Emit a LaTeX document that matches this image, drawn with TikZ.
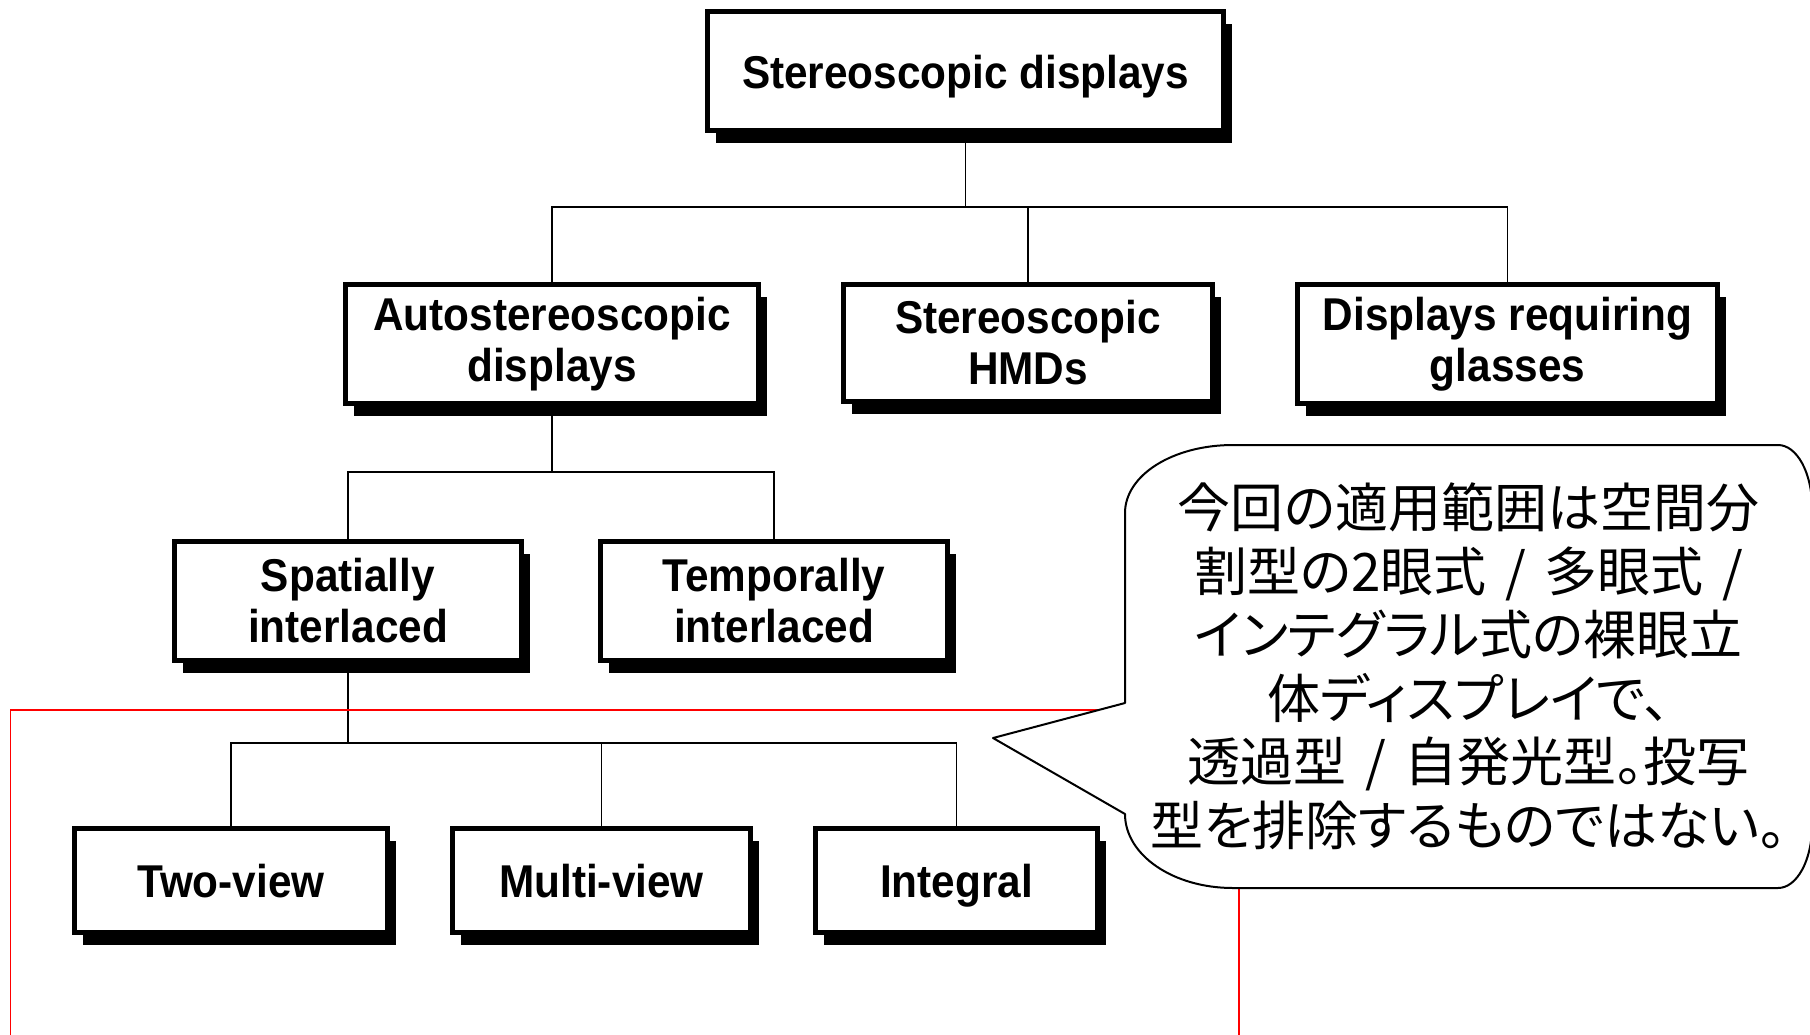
\documentclass[tikz,border=0pt]{standalone}
\usepackage{fontspec}
\setmainfont{Liberation Sans}[FakeStretch=0.92]
\newfontfamily\jpfont{Noto Sans CJK JP}[RawFeature=+palt]
\usetikzlibrary{shadows}
\newcommand\slsp{\hspace{0.35em}/\hspace{0.35em}}
\begin{document}
\begin{tikzpicture}[x=0.5pt, y=-0.5pt,
  box/.style 2 args={draw=black, line width=2.5pt, fill=white,
    minimum width=#1*0.5pt, minimum height=#2*0.5pt, inner sep=0pt,
    font=\bfseries\fontsize{23pt}{25.5pt}\selectfont,
    drop shadow={shadow xshift=4.25pt, shadow yshift=-6.25pt, fill=black, opacity=1}},
  oneline/.style={text height=22pt, text depth=4.9pt},
  twoline/.style={align=center},
  conn/.style={draw=black, line width=0.8pt},
  frameline/.style={draw=red, line width=0.8pt},
  bubble/.style={draw=black, line width=1pt, fill=white, line join=round},
  notetext/.style={align=center, font=\jpfont\fontsize{26.5pt}{31.75pt}\selectfont}]
\useasboundingbox (0,0) rectangle (1810,1034);
\clip (0,0) rectangle (1810,1034);

% tree of display types
\node[box={516}{119}, oneline] (top) at (965.5,71) {Stereoscopic displays};
\node[box={413}{119}, twoline] (auto)  at (552,344)    {Autostereoscopic\\displays};
\node[box={369}{117}, twoline] (hmd)   at (1028,343)   {Stereoscopic\\HMDs};
\node[box={420}{119}, twoline] (glass) at (1507.5,344) {Displays requiring\\glasses};
\node[box={347}{119}, twoline] (spat)  at (348,601)    {Spatially\\interlaced};
\node[box={347}{119}, twoline] (temp)  at (774,601)    {Temporally\\interlaced};
\node[box={313}{104}, oneline] (two)   at (231,880.5)   {Two-view};
\node[box={298}{104}, oneline] (multi) at (601.5,880.5) {Multi-view};
\node[box={282}{104}, oneline] (integ) at (956.5,880.5) {Integral};

% branch points
\coordinate (j1) at (965.5,207);
\coordinate (j2) at (552,472);
\coordinate (j3) at (348,743);

\draw[conn] (top.south) -- (j1);
\draw[conn] (auto.north) |- (j1) -| (glass.north);
\draw[conn] (hmd.north) -- (hmd.north |- j1);

\draw[conn] (auto.south) -- (j2);
\draw[conn] (spat.north) |- (j2) -| (temp.north);

\draw[conn] (spat.south) -- (j3);
\draw[conn] (two.north) |- (j3) -| (integ.north);
\draw[conn] (multi.north) -- (multi.north |- j3);

% red frame around the leaf level
\draw[frameline] (10.5,710) rectangle (1239,1100);

% speech bubble
\draw[bubble] (1125,703) -- (993,738) -- (1125,814)
  .. controls (1125,855) and (1173,888) .. (1233,888)
  -- (1778,888)
  .. controls (1797,888) and (1812,860) .. (1812,826)
  -- (1812,507)
  .. controls (1812,473) and (1797,445) .. (1778,445)
  -- (1233,445)
  .. controls (1173,445) and (1125,475) .. (1125,513)
  -- cycle;
\node[notetext] (note) at (1468.5,666) {今回の適用範囲は空間分\\割型の2眼式\slsp 多眼式\slsp\\インテグラル式の裸眼立\\体ディスプレイで、\\透過型\slsp 自発光型。投写\\型を排除するものではない。};
\end{tikzpicture}
\end{document}
